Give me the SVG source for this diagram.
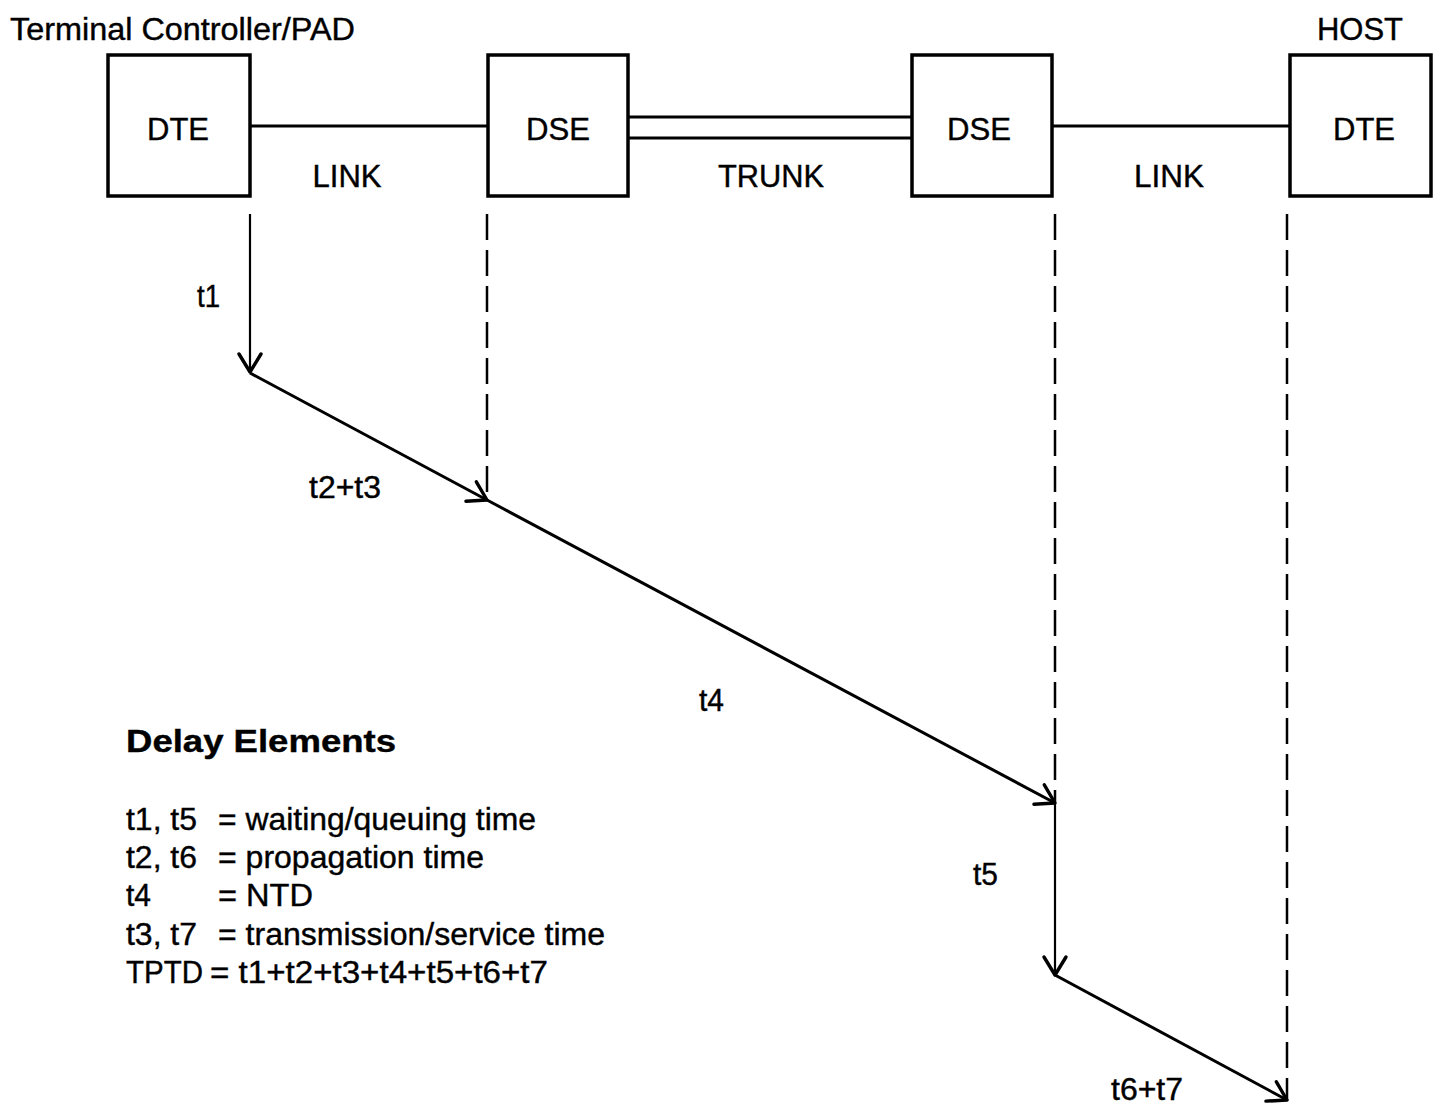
<svg xmlns="http://www.w3.org/2000/svg" width="1439" height="1117" viewBox="0 0 1439 1117">
<style>
text{font-family:"Liberation Sans",Arial,sans-serif;font-size:31px;fill:#000;stroke:#000;stroke-width:0.4}
.c{text-anchor:middle}
.b{font-weight:bold}
.box{fill:#fff;stroke:#000;stroke-width:3.5}
.ln{fill:none;stroke:#000;stroke-width:3}
.thin{fill:none;stroke:#000;stroke-width:2.2}
.dash{fill:none;stroke:#000;stroke-width:2.5;stroke-dasharray:26 10}
</style>
<defs>
<marker id="ah" markerUnits="userSpaceOnUse" markerWidth="50" markerHeight="50" refX="0" refY="0" viewBox="-25 -25 50 50" orient="auto" overflow="visible">
<path d="M -18 -11 L 0 0 L -18 11" fill="none" stroke="#000" stroke-width="3.4" stroke-linecap="round" stroke-linejoin="round"/>
</marker>
</defs>
<rect width="1439" height="1117" fill="#fff"/>
<text x="10" y="40" textLength="345" lengthAdjust="spacingAndGlyphs">Terminal Controller/PAD</text>
<text x="1317" y="40" textLength="86" lengthAdjust="spacingAndGlyphs">HOST</text>
<g id="connectors">
<line class="ln" x1="250" y1="126" x2="488" y2="126"/>
<line class="ln" x1="628" y1="117" x2="912" y2="117"/>
<line class="ln" x1="628" y1="138" x2="912" y2="138"/>
<line class="ln" x1="1052" y1="126" x2="1290" y2="126"/>
<line class="thin" x1="250" y1="214" x2="250" y2="372" marker-end="url(#ah)"/>
<line class="dash" x1="487" y1="214" x2="487" y2="500"/>
<line class="dash" x1="1055" y1="214" x2="1055" y2="803"/>
<line class="dash" x1="1287" y1="214" x2="1287" y2="1100"/>
<line class="ln" x1="250" y1="373" x2="487" y2="500" marker-end="url(#ah)"/>
<line class="ln" x1="487" y1="500" x2="1055" y2="803" marker-end="url(#ah)"/>
<line class="thin" x1="1055" y1="803" x2="1055" y2="975" marker-end="url(#ah)"/>
<line class="ln" x1="1055" y1="975" x2="1287" y2="1100" marker-end="url(#ah)"/>
</g>
<g id="dte1"><rect class="box" x="108" y="55" width="142" height="141"/><text class="c" x="178" y="140" textLength="62" lengthAdjust="spacingAndGlyphs">DTE</text></g>
<g id="dse1"><rect class="box" x="488" y="55" width="140" height="141"/><text class="c" x="558" y="140" textLength="64" lengthAdjust="spacingAndGlyphs">DSE</text></g>
<g id="dse2"><rect class="box" x="912" y="55" width="140" height="141"/><text class="c" x="979" y="140" textLength="64" lengthAdjust="spacingAndGlyphs">DSE</text></g>
<g id="dte2"><rect class="box" x="1290" y="55" width="141" height="141"/><text class="c" x="1364" y="140" textLength="62" lengthAdjust="spacingAndGlyphs">DTE</text></g>
<g id="labels">
<text class="c" x="347" y="187" textLength="69" lengthAdjust="spacingAndGlyphs">LINK</text>
<text class="c" x="771" y="187" textLength="106" lengthAdjust="spacingAndGlyphs">TRUNK</text>
<text class="c" x="1169" y="187" textLength="70" lengthAdjust="spacingAndGlyphs">LINK</text>
<text x="197" y="307" textLength="23" lengthAdjust="spacingAndGlyphs">t1</text>
<text x="309" y="498" textLength="72" lengthAdjust="spacingAndGlyphs">t2+t3</text>
<text x="699" y="711" textLength="25" lengthAdjust="spacingAndGlyphs">t4</text>
<text x="973" y="885" textLength="25" lengthAdjust="spacingAndGlyphs">t5</text>
<text x="1111" y="1100" textLength="72" lengthAdjust="spacingAndGlyphs">t6+t7</text>
</g>
<g id="legend">
<text class="b" x="126" y="752" textLength="270" lengthAdjust="spacingAndGlyphs">Delay  Elements</text>
<text x="126" y="830" textLength="71" lengthAdjust="spacingAndGlyphs">t1, t5</text>
<text x="218" y="830" textLength="318" lengthAdjust="spacingAndGlyphs">= waiting/queuing time</text>
<text x="126" y="868" textLength="71" lengthAdjust="spacingAndGlyphs">t2, t6</text>
<text x="218" y="868" textLength="266" lengthAdjust="spacingAndGlyphs">= propagation time</text>
<text x="126" y="906" textLength="25" lengthAdjust="spacingAndGlyphs">t4</text>
<text x="218" y="906" textLength="95" lengthAdjust="spacingAndGlyphs">= NTD</text>
<text x="126" y="945" textLength="71" lengthAdjust="spacingAndGlyphs">t3, t7</text>
<text x="218" y="945" textLength="387" lengthAdjust="spacingAndGlyphs">= transmission/service time</text>
<text x="126" y="983" textLength="77" lengthAdjust="spacingAndGlyphs">TPTD</text>
<text x="210" y="983" textLength="338" lengthAdjust="spacingAndGlyphs">= t1+t2+t3+t4+t5+t6+t7</text>
</g>
</svg>
